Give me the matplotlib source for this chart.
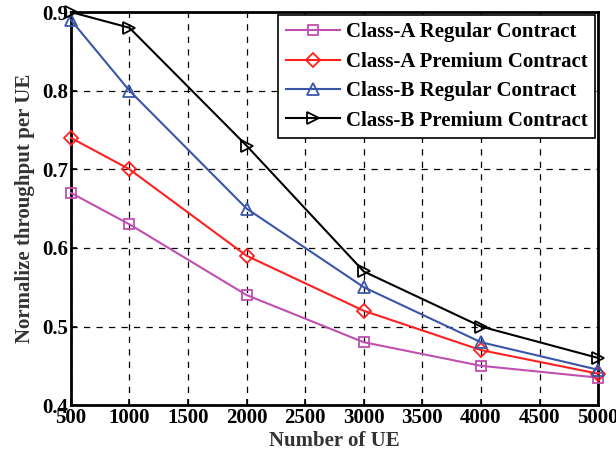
import matplotlib
matplotlib.use('Agg')
import matplotlib.pyplot as plt

plt.rcParams['font.family'] = ['Liberation Serif', 'DejaVu Serif']
plt.rcParams['font.weight'] = 'bold'

# Données
n_ue = [500, 1000, 2000, 3000, 4000, 5000]
a_regular = [0.67, 0.63, 0.54, 0.48, 0.45, 0.435]
a_premium = [0.74, 0.70, 0.59, 0.52, 0.47, 0.44]
b_regular = [0.89, 0.80, 0.65, 0.55, 0.48, 0.445]
b_premium = [0.90, 0.88, 0.73, 0.57, 0.50, 0.46]

labels = ['Class-A Regular Contract', 'Class-A Premium Contract',
          'Class-B Regular Contract', 'Class-B Premium Contract']
series = [a_regular, a_premium, b_regular, b_premium]
colors = ['#C04FB0', '#FF2020', '#3A56A8', '#000000']
markers = ['s', 'D', '^', '>']
sizes = [7, 7, 9, 9]

fig = plt.figure(figsize=(6.16, 4.63), dpi=100)
ax = fig.add_axes([0.115, 0.125, 0.856, 0.849])

for y, lab, c, m, s in zip(series, labels, colors, markers, sizes):
    ax.plot(n_ue, y, color=c, marker=m, markersize=s, markerfacecolor='none',
            markeredgecolor=c, markeredgewidth=1.3, linewidth=1.5, label=lab,
            clip_on=False, zorder=3)

ax.set_xlim(500, 5000)
ax.set_ylim(0.4, 0.9)
ax.set_xticks(range(500, 5001, 500))
ax.set_yticks([0.4, 0.5, 0.6, 0.7, 0.8, 0.9])
ax.set_yticklabels(['0.4', '0.5', '0.6', '0.7', '0.8', '0.9'])
ax.tick_params(labelsize=15, direction='in', length=4, width=1.2, pad=2)
for lbl in ax.get_xticklabels() + ax.get_yticklabels():
    lbl.set_fontweight('bold')
ax.grid(True, color='black', linestyle=(0, (5, 5)), linewidth=0.9)
for sp in ax.spines.values():
    sp.set_linewidth(2)

ax.set_xlabel('Number of UE', fontsize=15, fontweight='bold', color='#333333', labelpad=2)
ax.set_ylabel('Normalize throughput per UE', fontsize=15, fontweight='bold', color='#333333', labelpad=5)

leg = ax.legend(loc='upper right', fontsize=15, frameon=True, fancybox=False,
                edgecolor='black', framealpha=1, borderpad=0.35, labelspacing=0.45,
                handlelength=2.6, handletextpad=0.3, borderaxespad=0.15)
leg.get_frame().set_linewidth(1.2)
for t in leg.get_texts():
    t.set_fontweight('bold')

fig.savefig('out.png', dpi=100)
